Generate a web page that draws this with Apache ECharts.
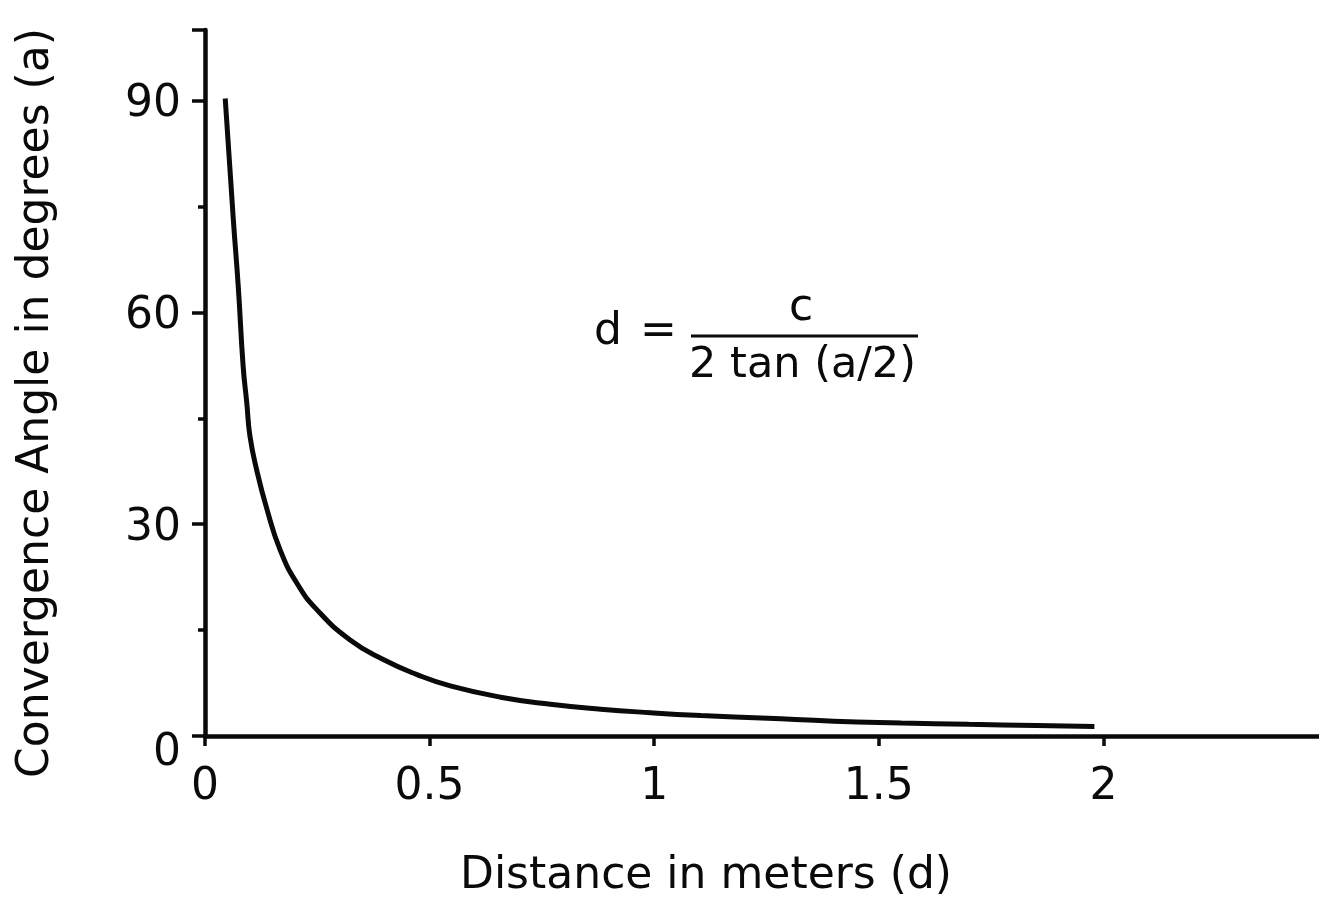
<!DOCTYPE html>
<html>
<head>
<meta charset="utf-8">
<script src="https://cdn.jsdelivr.net/npm/echarts@6/dist/echarts.min.js"></script>
<style>
  html, body { margin: 0; padding: 0; background: #fff; }
  #chart { width: 1319px; height: 900px; }
</style>
</head>
<body>
<div id="chart"></div>
<script>
// Distance in meters (d) and convergence angle in degrees (a)
const distances = [0.045, 0.063, 0.074, 0.085, 0.093, 0.100, 0.115, 0.138, 0.167, 0.204, 0.249, 0.323, 0.398, 0.472, 0.546, 0.658, 0.769, 0.881, 0.992, 1.104, 1.253, 1.40, 1.55, 1.70, 1.85, 1.98];
const angles    = [90.3, 73.2, 63.7, 52.3, 47.2, 42.5, 37.7, 32.1, 26.4, 21.7, 17.9, 13.6, 10.8, 8.7, 7.1, 5.5, 4.5, 3.8, 3.3, 2.9, 2.5, 2.1, 1.85, 1.65, 1.5, 1.35];
const xTicks = [0, 0.5, 1, 1.5, 2];
const yTicks = [0, 30, 60, 90];
const yMinorTicks = [15, 45, 75];
const xTitle = 'Distance in meters (d)';
const yTitle = 'Convergence Angle in degrees (a)';

const FONT = '"DejaVu Sans", "Liberation Sans", Arial, sans-serif';
const INK = '#0a0a0a';

// x axis runs 0..2.5 with 2.5 just past the right edge of the canvas
const X_MAX = 2.5;
const PX_PER_X = 1114 / 2.48;
const GRID_RIGHT = 1319 - 205 - X_MAX * PX_PER_X;

const chart = echarts.init(document.getElementById('chart'));
chart.setOption({
  backgroundColor: '#ffffff',
  animation: false,
  grid: { left: 205, right: GRID_RIGHT, top: 30, bottom: 164, containLabel: false, outerBoundsMode: 'none' },
  xAxis: [{
    type: 'value',
    min: 0, max: X_MAX, interval: 0.5,
    position: 'bottom',
    name: xTitle,
    nameLocation: 'middle',
    nameGap: 119,
    nameTextStyle: { fontFamily: FONT, fontSize: 44, color: INK, padding: [0, 121, 0, 0] },
    axisLine: { show: true, onZero: false, lineStyle: { color: INK, width: 4.5 } },
    axisTick: { show: true, length: 10, lineStyle: { color: INK, width: 3.5 } },
    axisLabel: { show: true, margin: 30, customValues: xTicks, fontFamily: FONT, fontSize: 44, color: INK },
    splitLine: { show: false }
  }],
  yAxis: [{
    type: 'value',
    min: 0, max: 100, interval: 30,
    position: 'left',
    name: yTitle,
    nameLocation: 'middle',
    nameRotate: 90,
    nameGap: 146,
    nameTextStyle: { fontFamily: FONT, fontSize: 44, color: INK, padding: [0, 40, 0, 0] },
    axisLine: { show: true, onZero: false, lineStyle: { color: INK, width: 4.5 } },
    axisTick: { show: true, length: 13, lineStyle: { color: INK, width: 3.5 } },
    axisLabel: {
      show: true, margin: 24, customValues: yTicks,
      fontFamily: FONT, fontSize: 44, color: INK,
      formatter: v => v === 0 ? '{z|0}' : '{n|' + v + '}',
      rich: {
        n: { fontFamily: FONT, fontSize: 44, color: INK, padding: [8, 0, 0, 0] },
        z: { fontFamily: FONT, fontSize: 44, color: INK, padding: [36, 0, 0, 0] }
      }
    },
    splitLine: { show: false }
  }, {
    type: 'value', min: 0, max: 100, position: 'left',
    axisLine: { show: false },
    axisTick: { show: true, length: 7, customValues: yMinorTicks, lineStyle: { color: INK, width: 3.5 } },
    axisLabel: { show: false },
    splitLine: { show: false }
  }],
  graphic: [
    { type: 'text', left: 594, top: 311, style: { text: 'd', font: '44px ' + FONT, fill: INK } },
    { type: 'text', left: 640, top: 311, style: { text: '=', font: '44px ' + FONT, fill: INK } },
    { type: 'text', left: 789, top: 287, style: { text: 'c', font: '44px ' + FONT, fill: INK } },
    { type: 'line', shape: { x1: 691, y1: 336, x2: 918, y2: 336 }, style: { stroke: INK, lineWidth: 3 } },
    { type: 'text', left: 689, top: 344, style: { text: '2 tan (a/2)', font: '43px ' + FONT, fill: INK } }
  ],
  series: [{
    type: 'line',
    xAxisIndex: 0,
    yAxisIndex: 0,
    data: distances.map((d, i) => [d, angles[i]]),
    smooth: 0.5,
    showSymbol: false,
    symbol: 'none',
    lineStyle: { color: INK, width: 5 },
    z: 3
  }]
});
</script>
</body>
</html>
